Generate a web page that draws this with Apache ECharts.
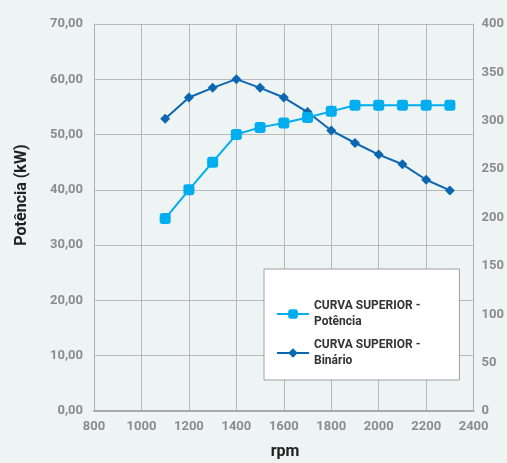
<!DOCTYPE html>
<html>
<head>
<meta charset="utf-8">
<script src="https://cdn.jsdelivr.net/npm/echarts@6/dist/echarts.min.js"></script>
<style>
  html, body { margin: 0; padding: 0; background: #eef3f3; }
  #chart { width: 507px; height: 463px; }
</style>
</head>
<body>
<div id="chart"></div>
<script>
  // rpm
  var rpm = [1100, 1200, 1300, 1400, 1500, 1600, 1700, 1800, 1900, 2000, 2100, 2200, 2300];
  // potência (kW), eixo esquerdo
  var potencia = [34.8, 40.0, 45.0, 50.0, 51.3, 52.1, 53.1, 54.2, 55.3, 55.3, 55.3, 55.3, 55.3];
  // binário, eixo direito
  var binario = [302, 324, 334, 343, 334, 324, 309, 290, 277, 265, 255, 239, 228];

  var nomePotencia = 'CURVA SUPERIOR -\nPotência';
  var nomeBinario = 'CURVA SUPERIOR -\nBinário';

  function pares(xs, ys) {
    var out = [];
    for (var i = 0; i < xs.length; i++) out.push([xs[i], ys[i]]);
    return out;
  }

  var labelStyle = { color: '#8c8c8c', fontWeight: 'bold', fontSize: 13, fontFamily: 'Roboto' };

  var chart = echarts.init(document.getElementById('chart'));
  chart.setOption({
    backgroundColor: '#eef3f3',
    animation: false,
    grid: { left: 94, right: 32, top: 24, bottom: 52 },
    xAxis: {
      type: 'value', min: 800, max: 2400, interval: 200,
      axisLine: { show: true, lineStyle: { color: '#a8a8a8', width: 2 } },
      axisTick: { show: false },
      splitLine: { lineStyle: { color: '#b9b9b9', width: 1 } },
      axisLabel: Object.assign({ margin: 9, formatter: function (v) { return String(v); } }, labelStyle)
    },
    yAxis: [
      {
        type: 'value', min: 0, max: 70, interval: 10,
        axisLine: { show: true, lineStyle: { color: '#b0b0b0' } },
        axisTick: { show: false },
        splitLine: { lineStyle: { color: '#b9b9b9', width: 1 } },
        axisLabel: Object.assign({ margin: 11, formatter: function (v) { return v.toFixed(2).replace('.', ','); } }, labelStyle)
      },
      {
        type: 'value', min: 0, max: 400, interval: 50,
        position: 'right',
        axisLine: { show: true, lineStyle: { color: '#b0b0b0' } },
        axisTick: { show: false },
        splitLine: { show: false },
        axisLabel: Object.assign({ margin: 8 }, labelStyle)
      }
    ],
    legend: {
      orient: 'vertical',
      left: 264, top: 269,
      padding: [29, 39, 11, 12],
      backgroundColor: '#ffffff',
      borderColor: '#a0a0a0', borderWidth: 1,
      itemWidth: 32, itemHeight: 12, itemGap: 7,
      textStyle: { color: '#333', fontWeight: 'bold', fontSize: 12, fontFamily: 'Roboto', lineHeight: 16 },
      data: [nomePotencia, nomeBinario]
    },
    series: [
      {
        name: nomePotencia, type: 'line', yAxisIndex: 0,
        data: pares(rpm, potencia),
        symbol: 'roundRect', symbolSize: 11,
        lineStyle: { color: '#00aeef', width: 2 },
        itemStyle: { color: '#00aeef' },
        z: 3
      },
      {
        name: nomeBinario, type: 'line', yAxisIndex: 1,
        data: pares(rpm, binario),
        symbol: 'diamond', symbolSize: 10,
        lineStyle: { color: '#0b67b2', width: 2 },
        itemStyle: { color: '#0b67b2' },
        z: 2
      }
    ],
    graphic: [
      {
        type: 'text', x: 22, y: 195, rotation: Math.PI / 2,
        style: { text: 'Potência (kW)', font: 'bold 16px Roboto', fill: '#222', align: 'center', verticalAlign: 'middle' }
      },
      {
        type: 'text', x: 285, y: 452,
        style: { text: 'rpm', font: 'bold 16px Roboto', fill: '#222', align: 'center', verticalAlign: 'middle' }
      }
    ]
  });
</script>
</body>
</html>
